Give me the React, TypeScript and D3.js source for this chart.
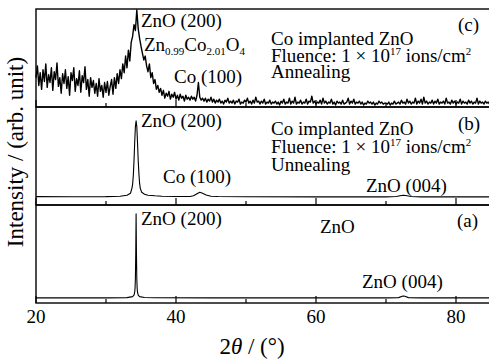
import { scaleLinear, line, range } from "d3";

const WIDTH = 489;
const HEIGHT = 362;

const X_DOMAIN: [number, number] = [20, 85];
const MAJOR_TICKS = [20, 40, 60, 80];
const MINOR_TICKS = [30, 50, 70];

// panel (c): annealed, noisy scan, 0.2 deg step starting at 20 deg
const C_START = 20;
const C_STEP = 0.2;
const cIntensity = [
  30, 42, 22, 35, 18, 38, 26, 44, 20, 33,
  25, 40, 17, 36, 28, 45, 21, 30, 14, 34,
  24, 38, 19, 31, 12, 35, 27, 40, 16, 29,
  22, 37, 15, 32, 25, 41, 18, 28, 11, 30,
  20, 27, 14, 24, 11, 29, 16, 22, 10, 25,
  15, 26, 12, 21, 28, 13, 30, 19, 34, 24,
  38, 29, 44, 35, 52, 40, 58, 47, 66, 72,
  84, 78, 99, 80, 70, 62, 55, 48, 52, 42,
  36, 44, 30, 35, 24, 28, 18, 22, 15, 19,
  12, 17, 9, 14, 11, 16, 8, 13, 10, 15,
  8, 12, 7, 13, 9, 11, 6, 12, 8, 10,
  7, 11, 8, 10, 6, 12, 25, 10, 7, 9,
  6, 9, 5, 8, 6, 10, 5, 8, 4, 7,
  5, 8, 4, 6, 3, 7, 5, 9, 4, 6,
  4, 7, 3, 6, 5, 8, 3, 5, 4, 7,
  5, 9, 4, 6, 3, 7, 4, 10, 5, 6,
  3, 6, 4, 8, 3, 5, 4, 7, 3, 5,
  4, 6, 3, 5, 2, 6, 4, 8, 3, 5,
  4, 9, 3, 6, 4, 10, 3, 5, 4, 7,
  3, 5, 4, 8, 3, 6, 5, 11, 4, 6,
  3, 5, 4, 7, 3, 9, 4, 6, 3, 5,
  4, 8, 3, 5, 2, 6, 4, 5, 3, 7,
  3, 4, 5, 9, 3, 6, 4, 8, 3, 5,
  4, 6, 3, 5, 2, 4, 3, 6, 4, 5,
  3, 5, 2, 4, 3, 6, 4, 5, 3, 4,
  4, 3, 5, 2, 4, 3, 6, 3, 4, 5,
  3, 7, 4, 5, 3, 8, 4, 6, 3, 5,
  4, 9, 3, 6, 4, 8, 3, 10, 4, 6,
  3, 5, 4, 7, 3, 6, 4, 8, 3, 5,
  4, 6, 3, 9, 4, 5, 3, 7, 4, 6,
  3, 5, 4, 8, 3, 6, 4, 5, 3, 7,
  4, 6, 3, 5, 4, 9, 3, 6, 4, 5,
  3, 6, 4, 5, 3, 4,
];

// panel (b): unannealed
const bAngle = [
  20, 25, 30, 32, 33, 33.5, 33.7, 33.8, 33.9, 34.0, 34.1, 34.2, 34.3, 34.4,
  34.5, 34.6, 34.7, 34.8, 34.9, 35.1, 35.5, 36, 37, 38, 40, 42, 42.5, 43,
  43.4, 43.8, 44.3, 45, 46, 50, 60, 70, 71.5, 72, 72.5, 73, 73.6, 75, 85,
];
const bIntensity = [
  8.5, 8.4, 8.5, 9, 10, 12, 17, 21, 30, 45, 64, 80, 86, 80,
  64, 46, 32, 22, 17, 13, 11, 10, 9.4, 9, 8.7, 8.7, 9.5, 11.5,
  13, 12, 10.2, 9, 8.6, 8.4, 8.3, 8.3, 8.6, 9.4, 10, 9.4, 8.6, 8.3, 8.3,
];

// panel (a): ZnO reference
const aAngle = [
  20, 30, 33, 33.8, 34.0, 34.1, 34.15, 34.2, 34.25, 34.3, 34.35, 34.4, 34.45,
  34.5, 34.6, 34.8, 35.5, 37, 45, 70, 71.8, 72.3, 72.5, 72.7, 73.2, 75, 85,
];
const aIntensity = [
  5.2, 5.2, 5.5, 6.5, 8, 11, 15, 25, 50, 91, 50, 25, 15,
  11, 8, 6.5, 5.6, 5.3, 5.2, 5.2, 5.5, 6.8, 7.2, 6.8, 5.5, 5.2, 5.2,
];

const MARGIN = { left: 36, top: 9 };
const PANEL_H = 98;
const PLOT_RIGHT = 491;

type Pt = { x: number; y: number };

const SERIF = '"Liberation Serif", serif';

function Fluence({ x, y }: { x: number; y: number }) {
  return (
    <text x={x} y={y}>
      Fluence: 1 × 10<tspan fontSize={11} dy={-7}>17</tspan>
      <tspan dy={7}> ions/cm</tspan>
      <tspan fontSize={11} dy={-7}>2</tspan>
    </text>
  );
}

export default function App() {
  const x = scaleLinear().domain(X_DOMAIN).range([MARGIN.left, PLOT_RIGHT]);

  const panelTops = [0, 1, 2].map(i => MARGIN.top + i * PANEL_H);
  const yFor = (i: number) =>
    scaleLinear().domain([0, 100]).range([panelTops[i] + PANEL_H, panelTops[i]]);

  const cAngles = range(cIntensity.length).map(i => C_START + i * C_STEP);
  const cPts: Pt[] = cAngles.map((a, i) => ({ x: a, y: cIntensity[i] }));
  const bPts: Pt[] = bAngle.map((a, i) => ({ x: a, y: bIntensity[i] }));
  const aPts: Pt[] = aAngle.map((a, i) => ({ x: a, y: aIntensity[i] }));

  const series = [cPts, bPts, aPts];

  const bottom = panelTops[2] + PANEL_H;

  return (
    <svg
      width={WIDTH}
      height={HEIGHT}
      style={{ position: "absolute", left: 0, top: 0, background: "white", fontFamily: SERIF }}
    >
      {/* frames */}
      {panelTops.map((t, i) => (
        <rect
          key={i}
          x={MARGIN.left}
          y={t}
          width={PLOT_RIGHT - MARGIN.left}
          height={PANEL_H}
          fill="none"
          stroke="black"
          strokeWidth={1.4}
        />
      ))}

      {/* ticks on each panel bottom */}
      {panelTops.map((t, i) => (
        <g key={i}>
          {MAJOR_TICKS.map(v => (
            <line key={v} x1={x(v)} x2={x(v)} y1={t + PANEL_H} y2={t + PANEL_H - 7} stroke="black" strokeWidth={1.2} />
          ))}
          {MINOR_TICKS.map(v => (
            <line key={v} x1={x(v)} x2={x(v)} y1={t + PANEL_H} y2={t + PANEL_H - 4} stroke="black" strokeWidth={1.2} />
          ))}
        </g>
      ))}

      {/* curves */}
      {series.map((pts, i) => {
        const y = yFor(i);
        const d = line<Pt>().x(p => x(p.x)).y(p => y(p.y))(pts) ?? "";
        return <path key={i} d={d} fill="none" stroke="black" strokeWidth={i === 0 ? 1.4 : 1.1} strokeLinejoin="round" />;
      })}

      {/* x tick labels */}
      {MAJOR_TICKS.map(v => (
        <text key={v} x={x(v)} y={bottom + 20} textAnchor="middle" fontSize={19}>{v}</text>
      ))}

      {/* axis titles */}
      <text x={252} y={354} textAnchor="middle" fontSize={23}>
        2<tspan fontStyle="italic">θ</tspan> / (°)
      </text>
      <text transform="translate(23,152) rotate(-90)" textAnchor="middle" fontSize={23}>
        Intensity / (arb. unit)
      </text>

      {/* panel (c) labels */}
      <g fontSize={19}>
        <text x={141} y={27}>ZnO (200)</text>
        <text x={144} y={51}>
          Zn<tspan fontSize={11} dy={4}>0.99</tspan>
          <tspan dy={-4}>Co</tspan>
          <tspan fontSize={11} dy={4}>2.01</tspan>
          <tspan dy={-4}>O</tspan>
          <tspan fontSize={11} dy={4}>4</tspan>
        </text>
        <text x={174} y={83}>Co (100)</text>
        <text x={271} y={45}>Co implanted ZnO</text>
        <Fluence x={271} y={62} />
        <text x={271} y={78}>Annealing</text>
        <text x={458} y={31}>(c)</text>
      </g>

      {/* panel (b) labels */}
      <g fontSize={19}>
        <text x={141} y={127}>ZnO (200)</text>
        <text x={163} y={183}>Co (100)</text>
        <text x={366} y={192}>ZnO (004)</text>
        <text x={271} y={135}>Co implanted ZnO</text>
        <Fluence x={271} y={153} />
        <text x={271} y={171}>Unnealing</text>
        <text x={458} y={130}>(b)</text>
      </g>

      {/* panel (a) labels */}
      <g fontSize={19}>
        <text x={141} y={225}>ZnO (200)</text>
        <text x={320} y={233}>ZnO</text>
        <text x={362} y={288}>ZnO (004)</text>
        <text x={457} y={227}>(a)</text>
      </g>
    </svg>
  );
}
